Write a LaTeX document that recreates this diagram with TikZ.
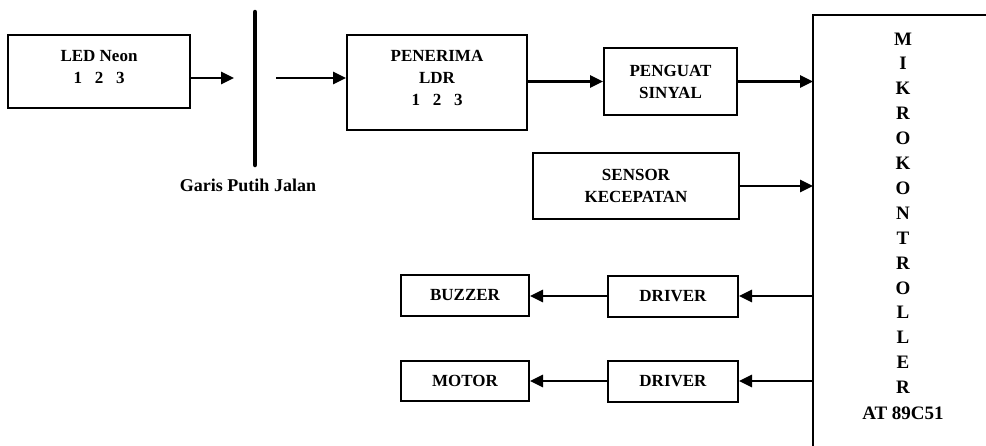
\documentclass[tikz,border=0pt]{standalone}
\usepackage{fontspec}
\setmainfont{Liberation Serif}
\usetikzlibrary{arrows.meta}
\newcommand\numgap{\hspace{0.75em}}
\begin{document}
\begin{tikzpicture}[x=1pt,y=-1pt,
  blk/.style={draw,line width=2pt,align=center,inner sep=0pt,font=\bfseries\fontsize{17}{22}\selectfont},
  arr/.style={line width=2.8pt,-{Triangle[length=13pt,width=12pt]}},
  lbl/.style={inner sep=0pt,font=\bfseries\fontsize{19}{22}\selectfont}]
\fill[white] (0,0) rectangle (986,445);
\useasboundingbox (0,0) rectangle (986,445);
% blocks
\node[blk,minimum width=182pt,minimum height=73pt] (led) at (99,71.5) {LED Neon\\1\numgap 2\numgap 3\\[-13pt]\mbox{}};
\node[blk,minimum width=180pt,minimum height=95pt] (ldr) at (437,82.5) {PENERIMA\\LDR\\1\numgap 2\numgap 3\\[-13pt]\mbox{}};
\node[blk,minimum width=133pt,minimum height=67pt] (peng) at (670.5,81.5) {PENGUAT\\SINYAL};
\node[blk,minimum width=206pt,minimum height=66pt] (sens) at (636,186) {SENSOR\\KECEPATAN};
\node[blk,minimum width=128pt,minimum height=41pt] (buz) at (465,295) {BUZZER};
\node[blk,minimum width=130pt,minimum height=41pt] (drv1) at (673,296) {DRIVER};
\node[blk,minimum width=128pt,minimum height=40pt] (mot) at (465,381) {MOTOR};
\node[blk,minimum width=130pt,minimum height=41pt] (drv2) at (673,381) {DRIVER};
% microcontroller (cut by the page edge)
\coordinate (mtr) at (990,15);
\coordinate (mtl) at (813,15);
\coordinate (mbl) at (813,449);
\draw[line width=2pt] (mtr) -- (mtl) -- (mbl);
\foreach \c [count=\i] in {M,I,K,R,O,K,O,N,T,R,O,L,L,E,R}
  \node[lbl,anchor=base] (mk\i) at (903,45+24.9*\i-24.9) {\c};
\node[lbl,anchor=base] (mkat) at (903,419) {AT 89C51};
% road line
\coordinate (bt) at (255,12);
\coordinate (bb) at (255,165);
\draw[line width=4.5pt,line cap=round] (bt) -- (bb);
\node[lbl,font=\bfseries\fontsize{18}{22}\selectfont] (garis) at (248,185) {Garis Putih Jalan};
% connectors
\coordinate (a1) at (234,78);
\coordinate (a2) at (276,78);
\draw[arr] ([yshift=-6.5pt]led.east) -- (a1);
\draw[arr] (a2) -- (a2 -| ldr.west);
\draw[arr] (ldr.east |- peng.west) -- (peng.west);
\draw[arr] (peng.east) -- (peng.east -| mtl);
\draw[arr] (sens.east) -- (sens.east -| mtl);
\draw[arr] (drv1.east -| mtl) -- (drv1.east);
\draw[arr] (drv1.west) -- (buz.east |- drv1.west);
\draw[arr] (drv2.east -| mtl) -- (drv2.east);
\draw[arr] (drv2.west) -- (mot.east |- drv2.west);
\end{tikzpicture}
\end{document}
